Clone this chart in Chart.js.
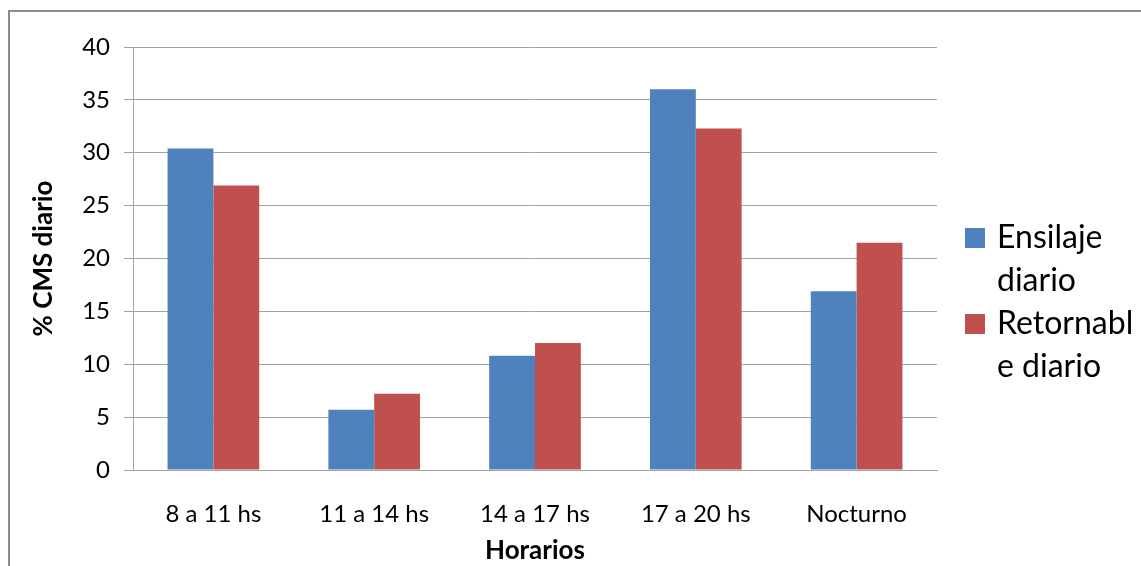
<!DOCTYPE html>
<html>
<head>
<meta charset="utf-8">
<script src="https://cdn.jsdelivr.net/npm/chart.js@4.4.0/dist/chart.umd.min.js"></script>
<style>
  html, body { margin: 0; padding: 0; background: #fff; }
</style>
</head>
<body>
<canvas id="chart" width="1141" height="566"></canvas>
<script>
// Datos del gráfico
const categories = ['8 a 11 hs', '11 a 14 hs', '14 a 17 hs', '17 a 20 hs', 'Nocturno'];
const ensilaje = [30.4, 5.7, 10.8, 36.0, 16.9];
const retornable = [26.9, 7.2, 12.0, 32.3, 21.5];
const seriesLines = [['Ensilaje', 'diario'], ['Retornabl', 'e diario']];
const yTicks = [0, 5, 10, 15, 20, 25, 30, 35, 40];

const FONT = 'Lato';
const gridGray = '#a3a3a3';

// Marco exterior (solo borde superior e izquierdo visibles)
const frame = {
  id: 'frame',
  afterDraw(chart) {
    const ctx = chart.ctx;
    ctx.save();
    ctx.strokeStyle = '#8c8c8c';
    ctx.lineWidth = 2;
    ctx.beginPath();
    ctx.moveTo(1141, 11);
    ctx.lineTo(9, 11);
    ctx.lineTo(9, 566);
    ctx.stroke();
    ctx.restore();
  }
};

// Leyenda a la derecha, con texto en dos líneas
const sideLegend = {
  id: 'sideLegend',
  afterDraw(chart) {
    const ctx = chart.ctx;
    ctx.save();
    ctx.font = '32px ' + FONT;
    ctx.textBaseline = 'alphabetic';
    ctx.textAlign = 'left';
    let y = 248;
    chart.data.datasets.forEach(ds => {
      ctx.fillStyle = ds.backgroundColor;
      ctx.fillRect(965, y - 20, 20, 20);
      ctx.fillStyle = '#000';
      ds.lines.forEach(line => {
        ctx.fillText(line, 997, y);
        y += 43;
      });
    });
    ctx.restore();
  }
};

const ctx = document.getElementById('chart').getContext('2d');
const chart = new Chart(ctx, {
  type: 'bar',
  data: {
    labels: categories,
    datasets: [{
      label: seriesLines[0].join(' '),
      lines: seriesLines[0],
      data: ensilaje,
      backgroundColor: '#4F81BD',
      categoryPercentage: 0.57,
      barPercentage: 1.0
    }, {
      label: seriesLines[1].join(' '),
      lines: seriesLines[1],
      data: retornable,
      backgroundColor: '#C0504D',
      categoryPercentage: 0.57,
      barPercentage: 1.0
    }]
  },
  options: {
    responsive: false,
    animation: false,
    layout: { padding: { left: 0, top: 47, right: 204, bottom: 0 } },
    plugins: {
      legend: { display: false },
      tooltip: { enabled: false }
    },
    scales: {
      x: {
        grid: { display: false, drawTicks: false },
        border: { color: gridGray },
        ticks: { color: '#000', font: { family: FONT, size: 24 }, padding: 30 },
        title: {
          display: true,
          text: 'Horarios',
          color: '#000',
          font: { family: FONT, size: 26, weight: 'bold' },
          padding: { top: 0, bottom: 0 }
        },
        afterFit(scale) { scale.height = 96; }
      },
      y: {
        min: 0,
        max: 40,
        afterBuildTicks(scale) { scale.ticks = yTicks.map(v => ({ value: v })); },
        grid: { color: gridGray, tickLength: 9, tickColor: gridGray },
        border: { color: gridGray },
        ticks: { color: '#000', font: { family: FONT, size: 24 }, padding: 14 },
        title: {
          display: true,
          text: '% CMS diario',
          color: '#000',
          font: { family: FONT, size: 26, weight: 'bold' },
          padding: { top: 28, bottom: 0 }
        },
        afterFit(scale) { scale.width = 133; }
      }
    }
  },
  plugins: [frame, sideLegend]
});
</script>
</body>
</html>
